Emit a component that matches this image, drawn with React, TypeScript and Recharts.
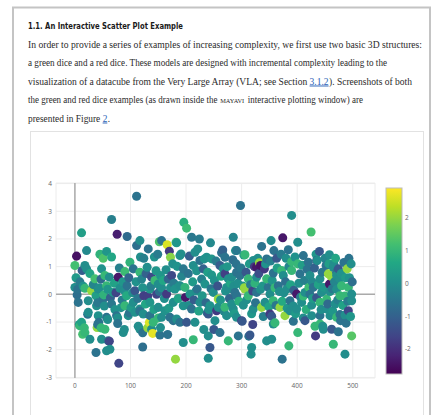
import React from 'react'
import { ScatterChart, Scatter, XAxis, YAxis, ZAxis, CartesianGrid, ReferenceLine, Cell } from 'recharts'

const xTicks = [0, 100, 200, 300, 400, 500]
const yTicks = [-3, -2, -1, 0, 1, 2, 3, 4]
const colorTicks = [-2, -1, 0, 1, 2]
const colorRange = [-2.76, 2.91]

const VIRIDIS = ['#440154', '#482475', '#414487', '#355f8d', '#2a788e', '#21918c', '#22a884', '#44bf70', '#7ad151', '#bddf26', '#fde725']

// [x, y, colour value]
const upperPoints = [
  [111, 3.54, -0.6], [66, 2.7, -0.3], [12, 2.22, 0.4], [76, 2.17, -2.3], [94, 2.09, -0.8], [196, 2.6, 0.8], [201, 2.39, 1.1],
  [210, 2.06, -0.5], [224, 2.0, -0.4], [244, 1.86, -0.1], [285, 2.06, -0.2], [117, 1.94, 0], [111, 1.76, -0.7], [132, 1.64, -0.6],
  [152, 1.9, 1.3], [156, 1.94, -0.6], [166, 1.79, 2.6], [182, 1.88, 1.2], [170, 1.56, -1.8], [172, 1.34, 1.9], [3, 1.38, -2.5],
  [21, 1.58, -0.1], [0, 1.04, 1.2], [18, 1.04, 0], [45, 1.45, 0.9], [57, 1.55, 0.2], [51, 1.3, 1.3], [66, 1.35, 0.6], [99, 1.16, 0.9],
  [118, 1.35, 0], [124, 1.3, -0.3], [143, 1.35, 0.1], [149, 1.45, -0.4], [189, 1.4, 0.1], [206, 1.38, -1.1], [216, 1.52, 0],
  [225, 1.22, -0.6], [237, 1.34, 0.1], [246, 1.28, 0.2], [264, 1.5, -0.9], [266, 1.6, -1.0], [291, 1.58, -0.5], [183, 1.86, 0.2],
  [221, 1.64, 0], [233, 1.28, 0.1], [265, 1.52, -0.6], [289, 1.58, 0.1], [304, 1.42, 0.2], [191, 1.46, 0], [213, 1.04, 0],
  [261, 1.04, -1.1], [184, 1.01, 0.1], [298, 3.21, -0.6], [390, 2.85, 0], [425, 2.25, 1.2], [374, 2.04, -2.4], [401, 1.88, 0],
  [353, 1.94, 0], [336, 1.73, -0.6], [358, 1.58, -0.6], [384, 1.61, -0.6], [411, 1.4, -0.6], [440, 1.55, -1.2], [458, 1.43, 0],
  [493, 1.3, -0.6], [497, 1.1, 0], [306, 1.43, 1.0], [270, 1.34, -0.6], [290, 1.1, -0.6], [321, 1.22, 0], [334, 1.04, -2.5],
  [345, 1.28, -0.6], [363, 1.3, -1.2], [380, 1.3, 0], [390, 1.18, 1.0], [401, 1.1, 1.0], [420, 1.16, -0.6], [436, 1.22, 0],
  [452, 1.04, -0.6], [466, 1.1, 0], [332, 1.14, 2.0], [323, 1.0, -1.8], [435, 1.22, -1.2]
]

const middlePoints = [
  [13, 0.86, -1.1], [21, 0.92, 0], [36, 0.56, 1.2], [48, 0.92, 0.1], [54, 0.68, 1.0], [78, 0.62, -2.4], [90, 0.82, 1.1],
  [105, 0.92, -0.6], [117, 0.8, 1.0], [130, 0.98, 0], [138, 0.62, -1.5], [144, 0.5, 1.1], [154, 0.68, 0.2], [164, 0.89, 0],
  [174, 0.68, -1.5], [195, 0.92, -0.5], [231, 0.92, -1.0], [246, 0.7, 0.2], [270, 0.74, -1.7], [282, 0.62, 0], [291, 0.8, -0.6],
  [0, 0.25, 0], [4, -0.02, -0.7], [15, 0.29, 0.1], [30, 0.13, 2.0], [42, 0.19, 0], [57, 0.31, 1.0], [69, 0.07, 0.2], [81, 0.22, 0],
  [94, 0.31, -0.6], [108, 0.13, -1.2], [124, -0.05, -1.7], [135, 0.19, 0.2], [150, 0.37, 0], [165, 0.01, -1.8], [180, 0.19, 0.1],
  [189, 0.31, 0], [199, -0.11, -2.4], [207, 0.01, 0.1], [220, 0.19, -0.6], [234, 0.37, 0.1], [249, 0.07, 0], [258, -0.17, 2.0],
  [273, 0.25, 0.1], [288, 0.07, -0.6], [5, 0.18, -0.6], [18, 0.22, 1.0], [44, 0.24, 0], [59, 0.18, 0.2], [74, 0.06, -1.6],
  [89, 0.14, 0], [104, 0.06, 0], [122, 0.24, 0.1], [131, -0.06, -1.7], [147, 0, -1.6], [156, 0.24, 0], [172, 0.24, 0],
  [188, 0.3, 0.2], [218, 0.12, 0], [271, 0.12, 0.1], [286, 0.3, 0], [305, 0.24, 2.0], [320, 0.12, -1.6], [334, 0.18, 0],
  [6, -0.29, -0.6], [24, -0.23, 0], [39, -0.41, 0], [51, -0.17, -0.6], [66, -0.35, -0.5], [90, -0.41, 1.0], [105, -0.29, 0],
  [117, -0.53, 0], [135, -0.29, 0.2], [150, -0.47, 0], [162, -0.59, 0.1], [177, -0.29, 0], [195, -0.41, 0.1], [210, -0.53, -0.6],
  [225, -0.29, 0], [243, -0.41, 0.1], [258, -0.47, 0], [282, -0.35, 0], [41, -0.3, -0.5], [53, -0.42, 0], [83, -0.48, 0.1],
  [98, -0.67, -0.6], [24, -0.65, 0], [42, -0.77, 0.1], [57, -0.83, -0.6], [75, -0.77, -0.6], [96, -0.77, 0], [108, -0.65, 0.1],
  [123, -0.71, 0], [135, -0.77, -0.6], [156, -0.83, 0], [171, -0.83, -0.6], [183, -0.89, 0], [240, -0.71, -1.2], [252, -0.95, 0],
  [255, -0.59, -1.8], [273, -0.77, 0], [291, -0.83, 0], [117, -0.61, -0.6], [150, -0.85, 1.0], [23, -0.72, -0.6], [77, -0.85, 0],
  [59, -0.91, 0], [238, -0.67, -0.6], [241, -0.55, 0], [177, -0.95, -0.6], [301, -0.97, -1.2],
  [465, 0.98, 0], [456, 0.74, 2.0], [471, 0.8, -0.6], [372, 0.86, 1.0], [341, 0.92, -1.8], [327, 0.98, -2.4], [474, 0.92, -1.2],
  [490, 0.92, 2.0], [461, 0.65, 2.0], [458, 0.37, -2.4], [476, 0.56, 0], [480, 0.31, 1.0], [492, 0.25, 1.0], [498, 0.01, 0],
  [498, -0.23, 0], [492, -0.59, -1.6], [486, -0.75, 0], [426, -0.77, 0], [414, -0.95, -1.2], [300, -0.95, -1.8], [351, -0.71, -1.8],
  [378, -0.77, 2.0], [387, -0.59, 0], [399, -0.53, 0], [369, -0.47, 2.0], [336, -0.47, 2.0], [321, -0.53, 0], [303, -0.39, 0],
  [285, -0.53, 0], [270, -0.47, 1.0], [342, -0.29, 0], [357, -0.23, 1.0], [387, -0.23, -0.6], [408, -0.29, 0], [426, -0.39, 0],
  [441, -0.29, 1.0], [453, -0.53, 0], [468, -0.35, 0], [441, -0.77, -0.6], [459, -0.77, 0], [471, -0.83, 1.0], [478, -0.95, -0.6],
  [306, 0.19, 2.0], [312, -0.05, 1.0], [291, -0.05, -0.6], [276, 0.19, 0], [327, 0.07, -0.6], [351, 0.01, 0], [366, 0.31, -0.6],
  [381, 0.19, 0], [399, 0.01, -2.4], [414, 0.07, 0], [429, 0.25, -0.6], [444, 0.07, 0], [459, 0.1, 0], [477, -0.05, 1.0],
  [276, 0.56, 0], [297, 0.68, -0.6], [312, 0.56, 1.0], [327, 0.62, 0], [345, 0.56, 1.0], [357, 0.77, -0.6], [375, 0.68, 0],
  [390, 0.86, 1.0], [405, 0.74, -0.6], [423, 0.68, 0], [441, 0.56, 0], [471, 0.68, 0], [267, 0.92, 0], [360, 0.24, 1.0],
  [376, 0.06, 0], [411, -0.06, 1.0], [423, 0, -0.6], [435, -0.12, -1.2], [453, -0.18, 1.0], [471, 0.18, 0], [486, -0.06, 1.0],
  [354, -0.79, -1.2], [393, -0.42, 0], [393, -0.97, -0.6], [411, -0.85, 0], [477, -0.73, -0.6]
]

// points packed into the crowded central band
const densePoints = [
  [2, 0.6, 0.3], [9, 0.45, -0.4], [27, 0.75, 0.6], [33, 0.35, -0.2], [38, -0.05, 0.4], [47, 0.55, -0.8], [52, -0.02, 0.9],
  [62, 0.62, 0], [64, -0.12, -1.0], [71, 0.4, 0.5], [72, -0.55, 0.1], [80, 0.95, -0.3], [85, -0.2, -0.4], [86, 0.45, 0.2],
  [93, -0.05, 0.7], [97, 0.6, -0.9], [101, -0.48, 0.3], [110, 0.45, 0.1], [113, -0.15, -0.5], [120, 0.55, -0.2], [127, -0.35, 0.6],
  [128, 0.75, -1.0], [137, 0.3, -0.3], [142, -0.55, 0.4], [146, 0.85, 0.2], [152, 0.1, -0.7], [159, 0.5, 0.6], [161, -0.15, 0],
  [168, 0.55, -0.9], [169, -0.5, 0.3], [176, 1.1, 0], [178, 0.4, -0.4], [186, -0.15, 0.5], [192, 0.65, -0.2], [198, 0.25, 0.9],
  [204, 0.75, -0.6], [205, -0.4, 0], [212, 0.45, 0.3], [214, -0.2, -1.1], [219, 0.85, 0.1], [223, -0.6, 0.5], [228, 0.55, -0.3],
  [229, -0.05, 0.2], [236, -0.3, -0.8], [239, 0.8, 0.4], [245, 0.2, -0.5], [251, 0.5, 0.1], [254, 1.2, -0.4], [257, 0.3, -1.3],
  [262, -0.2, 0.2], [263, 0.65, 0.5], [268, -0.6, -0.2], [274, 1.0, 0.2], [278, -0.15, -0.9], [280, 0.4, 0.6], [284, 1.25, -0.7],
  [287, -0.7, 0.3], [293, 0.4, 0], [295, -0.25, 0.8], [299, 0.95, -0.5], [302, 0.3, 0.1], [308, 0.8, -1.2], [309, -0.2, 0],
  [314, 1.1, 0.3], [316, 0.35, -0.4], [318, -0.7, 0.2], [324, 0.4, 0.9], [325, -0.3, -0.6], [329, 1.3, 0], [331, 0.75, -1.4],
  [338, 0.3, 0.2], [339, -0.8, -0.3], [343, 1.1, 0.1], [348, 0.25, -0.6], [349, -0.45, 0.5], [352, 1.2, -0.3], [355, 0.5, 0.2],
  [362, -0.4, -0.5], [364, 0.95, 0.4], [368, 0.1, 0], [371, 1.45, -0.4], [373, -0.25, 0.7], [379, 0.45, -0.7], [382, -0.5, 0.2],
  [385, 1.0, -0.2], [388, 0.35, 0.5], [394, 0.15, -1.0], [396, 1.35, 0.1], [397, -0.7, 0.3], [403, 0.4, 0], [406, -0.1, -0.5],
  [409, 1.05, 0.4], [413, 0.5, -0.3], [416, -0.55, 0.8], [418, 0.9, -0.6], [421, 0.25, 1.1], [427, 0.45, -0.1], [428, -0.15, 0.3],
  [431, 0.95, -1.0], [434, 1.45, 0.2], [438, 0.35, 0.5], [443, -0.55, 0], [445, 0.8, -0.5], [448, 0.25, 0.2], [450, 1.3, -0.2],
  [455, -0.35, -0.8], [457, 1.1, 0.4], [463, 0.2, -0.5], [464, -0.6, 0.2], [467, 0.45, -0.2], [469, 1.3, 0.6], [473, -0.2, -0.3],
  [479, 0.75, 0.1], [482, -0.4, 0.5], [484, 1.15, -0.6], [487, 0.6, 0.3], [491, -0.25, -0.4], [494, 0.6, 0.1], [496, -0.8, 0.2],
  [499, 0.45, -0.7]
]

const lowerPoints = [
  [141, -1.01, 1.0], [189, -1.01, -0.6], [201, -1.01, -1.2], [216, -1.01, 0], [12, -1.01, 0.5], [9, -1.14, 1.0], [14, -1.44, 1.2],
  [18, -1.38, 1.0], [43, -1.01, -0.6], [40, -1.2, 2.0], [54, -1.26, 1.0], [77, -1.05, -0.6], [87, -1.38, 0], [117, -1.26, 0],
  [134, -1.01, 2.6], [138, -1.26, 0], [140, -1.41, 2.7], [153, -1.47, -0.6], [154, -1.2, 0], [240, -1.5, 0], [261, -1.38, -0.6],
  [276, -1.68, 1.0], [294, -1.5, -0.6], [8, -1.09, 0.2], [17, -1.21, 1.0], [41, -1.09, -0.6], [47, -1.21, 1.0], [89, -1.27, 0],
  [114, -1.15, 0], [122, -1.39, -0.6], [131, -1.21, 2.0], [232, -1.27, 0], [250, -1.27, -1.2], [320, -1.09, -1.6],
  [313, -1.51, -0.6], [167, -1.45, -0.6], [27, -1.62, 0], [48, -1.62, 0], [60, -1.68, -0.6], [63, -1.98, 0], [57, -2.04, 0],
  [38, -2.1, -0.6], [122, -1.9, -0.7], [195, -1.74, 0], [213, -1.64, 1.0], [243, -1.92, -1.2], [240, -2.31, 0], [181, -2.34, 2.0],
  [79, -2.49, -1.6], [62, -1.69, -1.6], [488, -1.04, -0.6], [498, -1.5, 1.4], [465, -1.8, 1.0], [486, -2.16, 0],
  [474, -1.35, -0.6], [462, -1.26, -1.2], [447, -1.26, 0], [433, -1.5, -1.8], [441, -1.07, 1.0], [401, -1.38, 1.0],
  [385, -1.86, 1.0], [373, -2.34, -0.6], [354, -1.62, 0], [345, -1.68, 0], [318, -1.92, 0], [317, -2.16, 0], [315, -1.47, -1.2],
  [357, -1.07, 0], [360, -1.03, 1.0], [432, -1.15, 1.0], [446, -1.15, 0]
]

const hexToRgb = (h: string) => [1, 3, 5].map((i) => parseInt(h.slice(i, i + 2), 16))

const viridis = (v: number) => {
  const t = Math.min(1, Math.max(0, (v - colorRange[0]) / (colorRange[1] - colorRange[0])))
  const pos = t * (VIRIDIS.length - 1)
  const i = Math.min(VIRIDIS.length - 2, Math.floor(pos))
  const f = pos - i
  const a = hexToRgb(VIRIDIS[i])
  const b = hexToRgb(VIRIDIS[i + 1])
  const c = a.map((ch, k) => Math.round(ch + (b[k] - ch) * f))
  return `rgb(${c[0]},${c[1]},${c[2]})`
}

const points = [...upperPoints, ...middlePoints, ...densePoints, ...lowerPoints]
  .map(([x, y, c]) => ({ x, y, c }))
  .sort((a, b) => a.x - b.x)

const tickStyle = { fill: '#666', fontSize: 6.5, fontFamily: '"Open Sans", sans-serif' }

// colour bar geometry
const CB = { x: 386, y: 188, w: 16, h: 186 }
const cbY = (v: number) => CB.y + ((colorRange[1] - v) / (colorRange[1] - colorRange[0])) * CB.h

// paragraph lines: baseline, target width, runs of [text, kind, space before]
const paragraphLines: { y: number; width: number; runs: [string, string, number][] }[] = [
  { y: 47.5, width: 394, runs: [['In order to provide a series of examples of increasing complexity, we first use two basic 3D structures:', 'body', 0]] },
  { y: 66, width: 359, runs: [['a green dice and a red dice. These models are designed with incremental complexity leading to the', 'body', 0]] },
  {
    y: 84.5,
    width: 384,
    runs: [
      ['visualization of a datacube from the Very Large Array (VLA; see Section', 'body', 0],
      ['3.1.2', 'link', 1],
      ['). Screenshots of both', 'body', 0.15]
    ]
  },
  {
    y: 103,
    width: 335,
    runs: [
      ['the green and red dice examples (as drawn inside the', 'body', 0],
      ['MAYAVI', 'caps', 1.2],
      ['interactive plotting window) are', 'body', 1.6]
    ]
  },
  {
    y: 121.5,
    width: 82,
    runs: [
      ['presented in Figure', 'body', 0],
      ['2', 'link', 1],
      ['.', 'body', 0.15]
    ]
  }
]

const BODY_SIZE = 9.6
const CAPS_SIZE = 6.8
const SERIF = '"Liberation Serif", serif'

let measureCtx: CanvasRenderingContext2D | null = null
const measure = (t: string, size: number) => {
  if (!measureCtx) measureCtx = document.createElement('canvas').getContext('2d')
  if (!measureCtx) return t.length * size * 0.45
  measureCtx.font = `${size}px "Liberation Serif"`
  return measureCtx.measureText(t).width
}

const layoutLine = (line: (typeof paragraphLines)[number]) => {
  const space = measure(' ', BODY_SIZE)
  const widths = line.runs.map(([t, kind]) => measure(t, kind === 'caps' ? CAPS_SIZE : BODY_SIZE))
  const total = widths.reduce((s, w, i) => s + w + line.runs[i][2] * space, 0)
  const k = line.width / total
  let cursor = 28
  return line.runs.map(([t, kind, gap], i) => {
    cursor += gap * space * k
    const run = { t, kind, x: cursor, w: widths[i] * k }
    cursor += widths[i] * k
    return run
  })
}

const PageText = () => (
  <svg width={434} height={415} style={{ position: 'absolute', left: 0, top: 0 }}>
    <rect x={0} y={0} width={434} height={415} fill="#fff" />
    <path d="M13 415 V7.5 H430 V415" fill="none" stroke="#c4c4c4" strokeWidth={2} />
    <rect x={30.5} y={131.5} width={393} height={290} fill="none" stroke="#e2e2e2" />
    <text x={28} y={29} fontFamily='"Liberation Sans Narrow", "DejaVu Sans Condensed", sans-serif' fontWeight="bold" fontSize={9.5} fill="#1a1a1a" textLength={155} lengthAdjust="spacingAndGlyphs">
      1.1. An Interactive Scatter Plot Example
    </text>
    <g fontFamily={SERIF}>
      {paragraphLines.map((line, li) =>
        layoutLine(line).map((r, ri) => (
          <text
            key={`run-${li}-${ri}`}
            x={r.x}
            y={line.y}
            fontSize={r.kind === 'caps' ? CAPS_SIZE : BODY_SIZE}
            fill={r.kind === 'link' ? '#2a62b8' : '#2a2a2a'}
            textDecoration={r.kind === 'link' ? 'underline' : undefined}
            textLength={r.w}
            lengthAdjust="spacingAndGlyphs"
          >
            {r.t}
          </text>
        ))
      )}
    </g>
  </svg>
)

const ColorBar = () => (
  <svg width={434} height={415} style={{ position: 'absolute', left: 0, top: 0, pointerEvents: 'none' }}>
    <defs>
      <linearGradient id="viridisBar" x1="0" y1="1" x2="0" y2="0">
        {VIRIDIS.map((c, i) => (
          <stop key={c} offset={`${(i / (VIRIDIS.length - 1)) * 100}%`} stopColor={c} />
        ))}
      </linearGradient>
    </defs>
    <rect x={CB.x} y={CB.y} width={CB.w} height={CB.h} fill="url(#viridisBar)" stroke="#bbb" strokeWidth={1} />
    {colorTicks.map((t) => (
      <text key={t} x={CB.x + CB.w + 3} y={cbY(t)} dy="0.35em" {...tickStyle}>
        {t}
      </text>
    ))}
  </svg>
)

export default function App() {
  return (
    <div style={{ position: 'absolute', left: 0, top: 0, width: 434, height: 415, overflow: 'hidden', background: '#fff' }}>
      <PageText />
      <div style={{ position: 'absolute', left: 0, top: 0 }}>
        <ScatterChart width={434} height={415} margin={{ top: 183, right: 59, bottom: 23, left: 36 }}>
          <CartesianGrid stroke="#ececec" />
          <XAxis
            type="number"
            dataKey="x"
            domain={[-34, 540]}
            ticks={xTicks}
            interval={0}
            height={14}
            axisLine={false}
            tickLine={false}
            tickSize={0}
            tickMargin={5}
            tick={tickStyle}
          />
          <YAxis
            type="number"
            dataKey="y"
            domain={[-3.02, 4.02]}
            ticks={yTicks}
            interval={0}
            width={20}
            axisLine={false}
            tickLine={false}
            tickSize={0}
            tickMargin={4}
            tick={tickStyle}
          />
          <ZAxis range={[64, 64]} />
          <ReferenceLine x={0} stroke="#aaa" strokeWidth={1.5} />
          <ReferenceLine y={0} stroke="#aaa" strokeWidth={1.5} />
          <Scatter data={points} isAnimationActive={false}>
            {points.map((p, i) => (
              <Cell key={`pt-${i}`} fill={viridis(p.c)} />
            ))}
          </Scatter>
        </ScatterChart>
      </div>
      <ColorBar />
    </div>
  )
}
